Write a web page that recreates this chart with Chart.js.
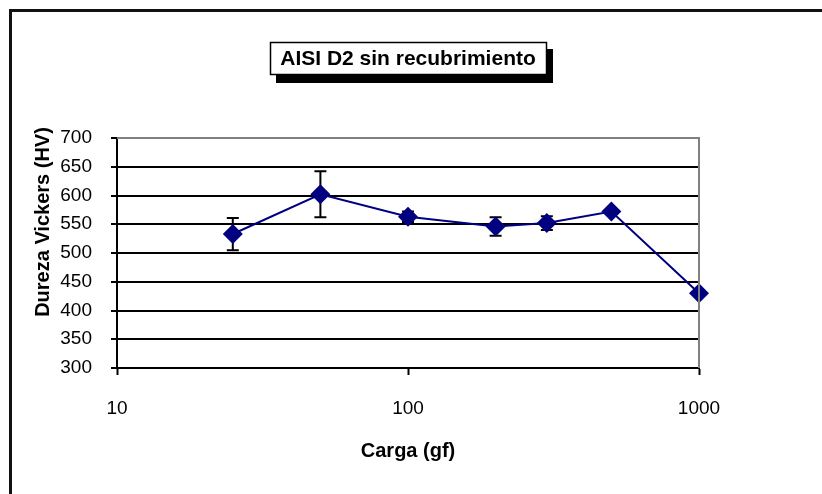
<!DOCTYPE html>
<html>
<head>
<meta charset="utf-8">
<script src="https://cdn.jsdelivr.net/npm/chart.js@4/dist/chart.umd.min.js"></script>
<style>
  html, body { margin: 0; padding: 0; background: #fff; overflow: hidden; }
  #wrap { position: relative; width: 822px; height: 494px; }
</style>
</head>
<body>
<div id="wrap"><canvas id="myChart" width="822" height="494"></canvas></div>
<script>
// Daten aus dem Diagramm
const cargas = [25, 50, 100, 200, 300, 500, 1000];      // Carga (gf)
const dureza = [533, 602, 563, 546, 552, 572, 430];     // Dureza Vickers (HV)
const errores = [28, 40, 9, 16, 12, 3, 0];              // +/- Fehlerbalken
const xTicks = [10, 100, 1000];

const titulo = 'AISI D2 sin recubrimiento';
const tituloY = 'Dureza Vickers (HV)';
const tituloX = 'Carga (gf)';

const fuente = "'Liberation Sans', Arial, sans-serif";

// Rahmen, Titelbox und Y-Titel
const deko = {
    id: 'deko',
    beforeDraw(chart) {
        const ctx = chart.ctx;
        ctx.save();
        ctx.fillStyle = '#fff';
        ctx.fillRect(0, 0, chart.width, chart.height);
        // äusserer Rahmen (läuft rechts und unten aus dem Bild)
        ctx.strokeStyle = '#111';
        ctx.lineWidth = 3;
        ctx.strokeRect(10.5, 10.5, 900, 600);
        ctx.restore();
    },
    afterDraw(chart) {
        const ctx = chart.ctx;
        const a = chart.chartArea;
        ctx.save();
        // graue Kante oben und rechts
        ctx.strokeStyle = '#808080';
        ctx.lineWidth = 2;
        ctx.beginPath();
        ctx.moveTo(a.left, a.top);
        ctx.lineTo(a.right, a.top);
        ctx.lineTo(a.right, a.bottom);
        ctx.stroke();

        // Titelbox mit Schatten
        ctx.fillStyle = '#000';
        ctx.fillRect(276, 49, 277, 34);
        ctx.fillStyle = '#fff';
        ctx.fillRect(270, 42, 277, 33);
        ctx.strokeStyle = '#000';
        ctx.lineWidth = 1.5;
        ctx.strokeRect(270.5, 42.5, 276, 32);
        ctx.fillStyle = '#000';
        ctx.font = 'bold 21px ' + fuente;
        ctx.textAlign = 'center';
        ctx.textBaseline = 'middle';
        ctx.fillText(titulo, 408, 59);

        // Y-Achsentitel
        ctx.translate(43, 222);
        ctx.rotate(-Math.PI / 2);
        ctx.font = 'bold 20px ' + fuente;
        ctx.fillText(tituloY, 0, 0);
        ctx.restore();
    }
};

// Fehlerbalken
const fehlerbalken = {
    id: 'fehlerbalken',
    beforeDatasetsDraw(chart) {
        const ctx = chart.ctx;
        const x = chart.scales.x;
        const y = chart.scales.y;
        ctx.save();
        ctx.strokeStyle = '#000';
        ctx.lineWidth = 2;
        cargas.forEach((c, i) => {
            if (!errores[i]) return;
            const px = x.getPixelForValue(c);
            const top = y.getPixelForValue(dureza[i] + errores[i]);
            const bot = y.getPixelForValue(dureza[i] - errores[i]);
            ctx.beginPath();
            ctx.moveTo(px, top);
            ctx.lineTo(px, bot);
            ctx.moveTo(px - 6, top);
            ctx.lineTo(px + 6, top);
            ctx.moveTo(px - 6, bot);
            ctx.lineTo(px + 6, bot);
            ctx.stroke();
        });
        ctx.restore();
    }
};

const ctx = document.getElementById('myChart').getContext('2d');

let chart = new Chart(ctx, {
    type: 'line',
    data: {
        datasets: [{
            label: tituloY,
            data: cargas.map((c, i) => ({ x: c, y: dureza[i] })),
            borderColor: '#000080',
            backgroundColor: '#000080',
            borderWidth: 2,
            pointStyle: 'rectRot',
            pointRadius: 10,
            pointBorderWidth: 0,
            tension: 0,
            clip: false
        }]
    },
    options: {
        responsive: false,
        animation: false,
        layout: { padding: { left: 10, right: 123, top: 138, bottom: 20 } },
        plugins: {
            legend: { display: false },
            tooltip: { enabled: false }
        },
        scales: {
            x: {
                type: 'logarithmic',
                min: 10,
                max: 1000,
                afterBuildTicks: (scale) => {
                    scale.ticks = xTicks.map(v => ({ value: v }));
                },
                afterFit: (scale) => { scale.height = 106; },
                grid: {
                    drawOnChartArea: false,
                    drawTicks: true,
                    tickLength: 7,
                    tickWidth: 2,
                    tickColor: '#000'
                },
                border: { color: '#000', width: 2 },
                ticks: {
                    color: '#000',
                    padding: 22,
                    maxRotation: 0,
                    font: { family: fuente, size: 19 },
                    callback: (v) => String(v)
                },
                title: {
                    display: true,
                    text: tituloX,
                    color: '#000',
                    font: { family: fuente, size: 20, weight: 'bold' },
                    padding: { top: 0, bottom: 11 }
                }
            },
            y: {
                min: 300,
                max: 700,
                afterFit: (scale) => { scale.width = 107; },
                grid: {
                    color: (c) => c.tick && c.tick.value === 700 ? '#808080' : '#000',
                    lineWidth: 2,
                    drawTicks: true,
                    tickLength: 6,
                    tickColor: '#000'
                },
                border: { color: '#000', width: 2 },
                ticks: {
                    stepSize: 50,
                    color: '#000',
                    padding: 19,
                    font: { family: fuente, size: 19 }
                }
            }
        }
    },
    plugins: [deko, fehlerbalken]
});
</script>
</body>
</html>
